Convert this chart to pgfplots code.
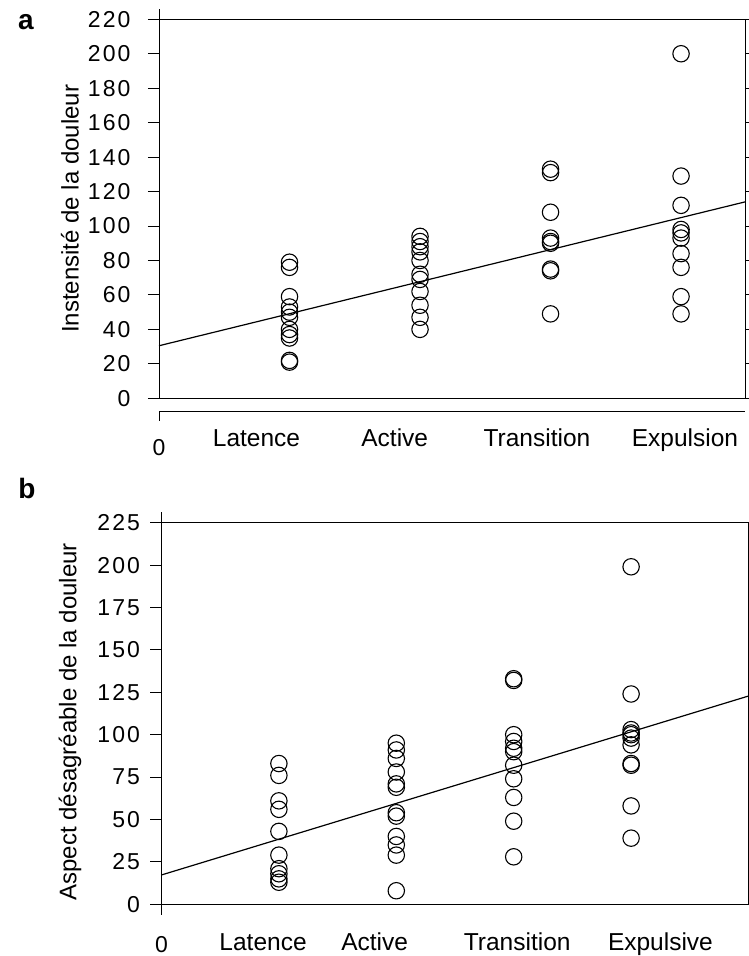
\documentclass[border=0pt]{standalone}
\usepackage{fontspec}
\setmainfont{Liberation Sans}
\newfontfamily\tickfont[LetterSpace=9]{Liberation Sans}
\usepackage{pgfplots}
\pgfplotsset{compat=1.18}

\pgfplotstableread{
x y
1 79
1 76
1 59
1 53
1 50
1 47
1 40
1 37
1 35
1 22
1 21
2 94
2 91
2 88
2 85
2 80
2 72
2 69
2 62
2 54
2 47
2 40
3 133
3 131
3 108
3 93
3 91
3 90
3 75
3 74
3 49
4 200
4 129
4 112
4 98
4 96
4 93
4 84
4 76
4 59
4 49
}\dataA

\pgfplotstableread{
x y
1 83
1 76
1 61
1 56
1 43
1 29
1 21
1 18
1 15
1 13
2 95
2 91
2 86
2 78
2 71
2 69
2 54
2 52
2 40
2 35
2 29
2 8
3 133
3 132
3 100
3 96
3 92
3 90
3 82
3 74
3 63
3 49
3 28
4 199
4 124
4 103
4 101
4 100
4 98
4 94
4 83
4 82
4 58
4 39
}\dataB

\pgfplotsset{
  myaxis/.style={
    scale only axis,
    clip=false,
    axis line style={line width=1pt},
    tick align=outside,
    major tick length=11pt,
    ytick pos=both,
    yticklabel pos=left,
    tick style={black,line width=0.9pt},
    xtick style={draw=none},
    /pgf/number format/assume math mode=true,
    yticklabel style={font=\tickfont\fontsize{23}{23}\selectfont},
    xticklabel style={font=\fontsize{24.5}{24.5}\selectfont, anchor=base},
    every axis y label/.style={rotate=90, anchor=center},
    ylabel style={font=\fontsize{24}{24}\selectfont},
  },
  dots/.style={only marks, mark=o, mark size=8.2pt, mark options={line width=1.1pt, black}},
  reg/.style={black, line width=1.2pt, no marks},
}

\begin{document}
\begin{tikzpicture}[x=1pt,y=1pt]
\useasboundingbox (0,0) rectangle (749,956);

% ---------- panel a ----------
\begin{axis}[myaxis,
  at={(159pt,557.7pt)}, anchor=south west,
  width=586pt, height=379pt,
  xmin=0, xmax=4.49, ymin=0, ymax=220,
  ytick={0,20,...,220},
  yticklabel style={xshift=-14pt},
  xtick={0.747,1.806,2.896,4.03},
  xticklabels={Latence,Active,Transition,Expulsion},
  xticklabel style={yshift=-37.7pt},
  ylabel={Instensité de la douleur},
  ylabel style={at={(axis description cs:-0.152,0.5)}},
]
\addplot[dots] table[x=x,y=y] {\dataA};
\addplot[reg] coordinates {(0,30.5) (4.49,114)};
\draw[line width=1pt] (axis cs:0,-7.4) -- (axis cs:4.49,-7.4);
\draw[line width=1pt] (axis cs:0,-7.4) -- (axis cs:0,-13);
\draw[line width=1pt] (axis cs:0,220) -- (axis cs:0,226);
\node[font=\tickfont\fontsize{23}{23}\selectfont] at (axis cs:0,-28.8) {0};
\end{axis}
\node[font=\bfseries\fontsize{28}{28}\selectfont] at (26,934) {a};

% ---------- panel b ----------
\begin{axis}[myaxis,
  at={(161.5pt,51.7pt)}, anchor=south west,
  width=587pt, height=381.6pt,
  xmin=0, xmax=5, ymin=0, ymax=225,
  ytick={0,25,...,225},
  yticklabel style={xshift=-7pt},
  xtick={0.865,1.816,3.03,4.25},
  xticklabels={Latence,Active,Transition,Expulsive},
  xticklabel style={yshift=-34.7pt},
  ylabel={Aspect désagréable de la douleur},
  ylabel style={at={(axis description cs:-0.156,0.478)}},
]
\addplot[dots] table[x=x,y=y] {\dataB};
\addplot[reg] coordinates {(0,17.3) (5,122.8)};
\draw[line width=1pt] (axis cs:0,225) -- (axis cs:0,231.5);
\draw[line width=1pt] (axis cs:0,0) -- (axis cs:0,-6.5);
\node[font=\tickfont\fontsize{23}{23}\selectfont] at (axis cs:0,-24) {0};
\end{axis}
\node[font=\bfseries\fontsize{28}{28}\selectfont] at (27,468) {b};
\end{tikzpicture}
\end{document}
